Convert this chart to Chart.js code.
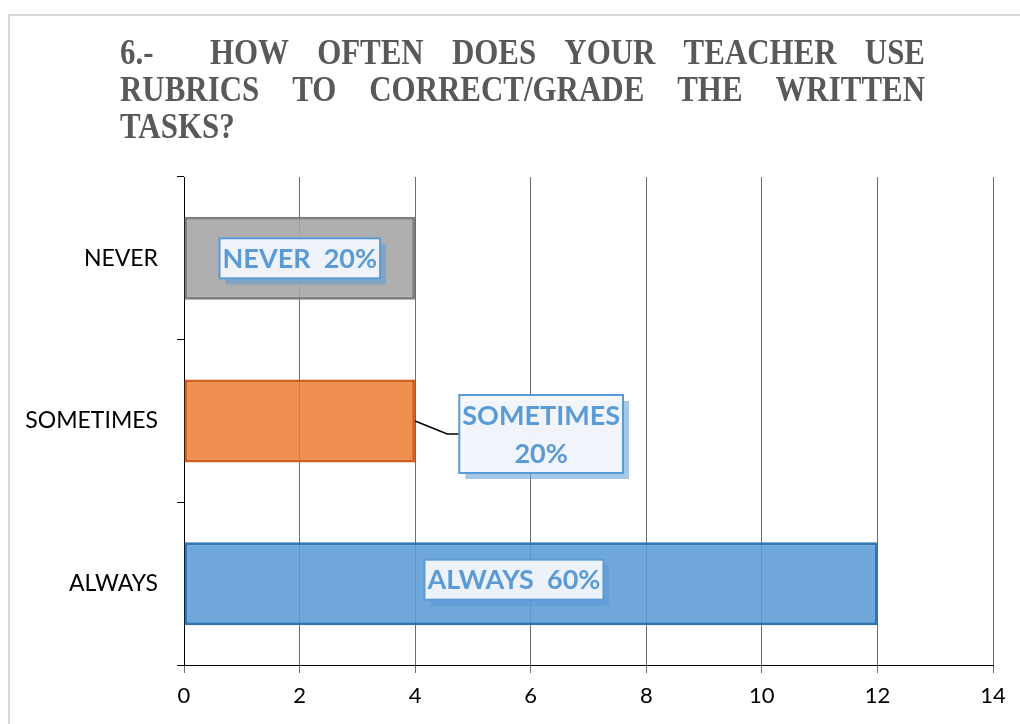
<!DOCTYPE html>
<html>
<head>
<meta charset="utf-8">
<script src="https://cdn.jsdelivr.net/npm/chart.js@4.4.1/dist/chart.umd.min.js"></script>
<style>
  html, body { margin: 0; padding: 0; background: #ffffff; }
  #wrap { width: 1020px; height: 724px; position: relative; }
  canvas { display: block; }
</style>
</head>
<body>
<div id="wrap"><canvas id="c" width="1020" height="724"></canvas></div>
<script>
// ---- data ----
const titleLines = [
  "6.-  HOW OFTEN DOES YOUR TEACHER USE",
  "RUBRICS TO CORRECT/GRADE THE WRITTEN",
  "TASKS?"
];
const categories = ["NEVER", "SOMETIMES", "ALWAYS"];
const counts = [4, 4, 12];
const percentLabels = ["20%", "20%", "60%"];
const xMin = 0;
const xMax = 14;
const xStep = 2;

// ---- styles ----
const fillColors = ["rgba(166,166,166,0.9)", "rgba(237,125,49,0.85)", "rgba(91,155,213,0.88)"];
const borderColors = ["#7f7f7f", "#d1601a", "#2e75b6"];

const framePlugin = {
  id: "frame",
  beforeDraw(chart) {
    const ctx = chart.ctx;
    ctx.save();
    ctx.fillStyle = "#ffffff";
    ctx.fillRect(0, 0, chart.width, chart.height);
    ctx.strokeStyle = "#d9d9d9";
    ctx.lineWidth = 2;
    ctx.strokeRect(9, 15, chart.width + 20, chart.height + 20);
    // justified title
    ctx.fillStyle = "#595959";
    ctx.font = 'bold 34px "Liberation Serif"';
    ctx.textBaseline = "alphabetic";
    const left = 120, right = 925;
    const baselines = [64, 101, 138];
    const vScale = 1.06, hScale = 0.91;
    titleLines.forEach((line, i) => {
      const words = line.split(" ");
      const justify = i < titleLines.length - 1;
      ctx.save();
      ctx.translate(0, baselines[i]);
      ctx.scale(hScale, vScale);
      ctx.textAlign = "left";
      if (!justify || words.length < 2) {
        ctx.fillText(line, left / hScale, 0);
        ctx.restore();
        return;
      }
      const widths = words.map(w => ctx.measureText(w).width * hScale);
      const total = widths.reduce((a, b) => a + b, 0);
      const gap = (right - left - total) / (words.length - 1);
      let x = left;
      words.forEach((w, k) => {
        if (w) ctx.fillText(w, x / hScale, 0);
        x += widths[k] + gap;
      });
      ctx.restore();
    });
    ctx.restore();
  }
};

const labelPlugin = {
  id: "boxLabels",
  afterDatasetsDraw(chart, args, opts) {
    const ctx = chart.ctx;
    const meta = chart.getDatasetMeta(0);
    ctx.save();
    ctx.font = 'bold 27px Lato';
    ctx.textAlign = "center";
    ctx.textBaseline = "middle";
    meta.data.forEach((bar, i) => {
      const p = opts.placement[i];
      const lines = p.wrap ? [categories[i], percentLabels[i]] : [categories[i] + "  " + percentLabels[i]];
      const lineH = 38;
      const tw = Math.max(...lines.map(l => ctx.measureText(l).width));
      const w = tw + 6;
      const h = lines.length * lineH + 2;
      let cx, cy;
      if (p.outside) {
        cx = bar.x + p.dx; cy = bar.y + p.dy;
        ctx.strokeStyle = "#000000";
        ctx.lineWidth = 1.5;
        ctx.beginPath();
        ctx.moveTo(bar.x, bar.y);
        ctx.lineTo(bar.x + p.elbow, cy);
        ctx.lineTo(cx - w / 2, cy);
        ctx.stroke();
      } else {
        cx = (bar.base + bar.x) / 2 + p.dx; cy = bar.y + p.dy;
      }
      const x0 = cx - w / 2, y0 = cy - h / 2;
      ctx.fillStyle = "rgba(91,155,213,0.55)";
      ctx.fillRect(x0 + 6, y0 + 6, w, h);
      ctx.fillStyle = "rgba(244,247,252,0.95)";
      ctx.fillRect(x0, y0, w, h);
      ctx.strokeStyle = "#5b9bd5";
      ctx.lineWidth = 2;
      ctx.strokeRect(x0, y0, w, h);
      ctx.fillStyle = "#5b9bd5";
      lines.forEach((l, k) => {
        ctx.fillText(l, cx, y0 + 1 + lineH * (k + 0.5) + 1);
      });
    });
    ctx.restore();
  }
};

new Chart(document.getElementById("c"), {
  type: "bar",
  data: {
    labels: categories,
    datasets: [{
      data: counts,
      backgroundColor: fillColors,
      borderColor: borderColors,
      borderWidth: 3,
      borderSkipped: false,
      barPercentage: 0.51,
      categoryPercentage: 1.0
    }]
  },
  options: {
    indexAxis: "y",
    responsive: false,
    devicePixelRatio: 1,
    animation: false,
    layout: { padding: { top: 177, right: 27, bottom: 0, left: 0 } },
    plugins: {
      legend: { display: false },
      title: { display: false },
      tooltip: { enabled: false },
      boxLabels: {
        placement: [
          { dx: 0, dy: 0 },
          { outside: true, wrap: true, dx: 126, dy: 13, elbow: 32 },
          { dx: -17, dy: -4 }
        ]
      }
    },
    scales: {
      x: {
        min: xMin, max: xMax,
        ticks: { stepSize: xStep, color: "#000000", padding: 10, font: { family: "Lato", size: 22 } },
        grid: { color: "#6e6e6e", lineWidth: 1, tickLength: 8, drawTicks: true },
        border: { color: "#000000", width: 1 },
        afterFit(s) { s.height = 59; }
      },
      y: {
        offset: true,
        ticks: { color: "#000000", padding: 19, font: { family: "Lato", size: 23 } },
        grid: { offset: true, drawOnChartArea: false, color: "#000000", tickLength: 7 },
        border: { color: "#000000", width: 1 },
        afterFit(s) { s.width = 184; }
      }
    }
  },
  plugins: [framePlugin, labelPlugin]
});
</script>
</body>
</html>
